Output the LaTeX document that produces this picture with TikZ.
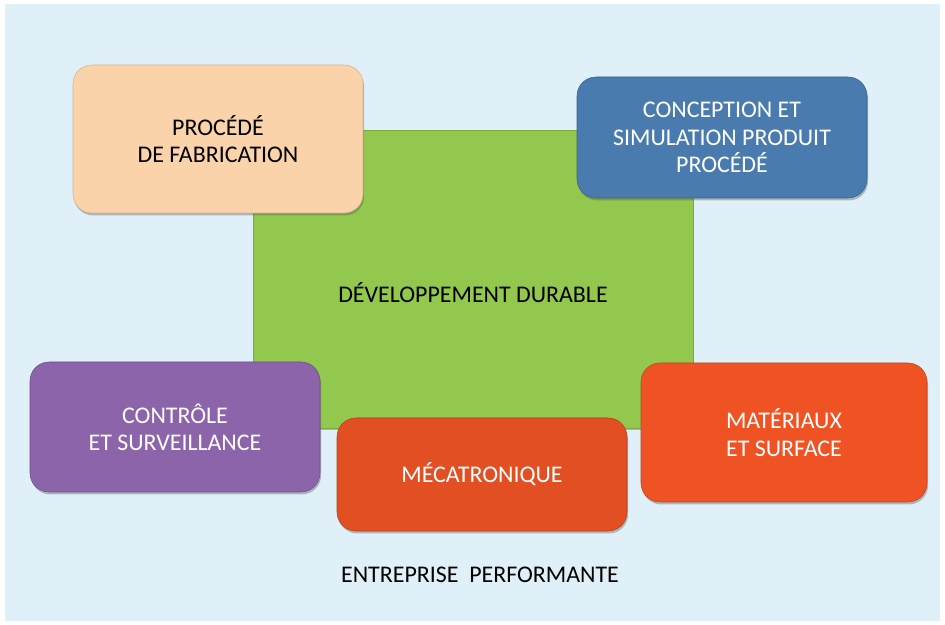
\documentclass[tikz,border=0pt]{standalone}
\usepackage{fontspec}
\setmainfont{Carlito}
\usepackage{xcolor}
\usepackage{tikz}
\usetikzlibrary{shadows,positioning}

\definecolor{fond}{HTML}{DFF0F8}
\definecolor{peche}{HTML}{FAD3AA}
\definecolor{bleu}{HTML}{4A7BAE}
\definecolor{vert}{HTML}{92C84E}
\definecolor{violet}{HTML}{8B64AA}
\definecolor{orangea}{HTML}{E14F23}
\definecolor{orangeb}{HTML}{F05323}

\begin{document}
\begin{tikzpicture}[
  font = \fontsize{13.6}{15.5}\selectfont,
  ombre/.style = {drop shadow={shadow xshift=0.6pt, shadow yshift=-1.4pt,
                  opacity=0.35, fill=black!70}},
  pole/.style = {rectangle, rounded corners=0.38cm, ombre, align=center,
                 inner sep=0pt, minimum width=5.8cm, text=white},
  centre/.style = {rectangle, ombre, inner sep=0pt,
                   minimum width=8.8cm, minimum height=5.96cm}
]
% background
\useasboundingbox (0,0) rectangle (18.9,12.5);
\fill[fond] (0.1,0.08) rectangle (18.8,12.42);

% central block
\node[centre, fill=vert, draw=vert!85!black, line width=0.3pt] (dev) at (9.46,6.92) {};
\node (devtxt) at ([yshift=-0.28cm]dev.center) {DÉVELOPPEMENT DURABLE};

% surrounding poles
\node[pole, fill=peche, draw=peche!85!black, line width=0.3pt, text=black,
      minimum height=2.96cm] (proc) at (4.36,9.72) {PROCÉDÉ\\DE FABRICATION};
\node[pole, fill=bleu, draw=bleu!80!black, line width=0.3pt,
      minimum height=2.42cm] (conc) at (14.44,9.75)
      {CONCEPTION ET\\SIMULATION PRODUIT\\PROCÉDÉ};
\node[pole, fill=violet, draw=violet!80!black, line width=0.3pt,
      minimum height=2.6cm] (ctrl) at (3.5,3.96) {CONTRÔLE\\ET SURVEILLANCE};
\node[pole, fill=orangea, draw=orangea!80!black, line width=0.3pt,
      minimum height=2.26cm] (meca) at (9.64,3.01) {MÉCATRONIQUE};
\node[pole, fill=orangeb, draw=orangeb!80!black, line width=0.3pt,
      minimum width=5.72cm, minimum height=2.78cm] (mat) at (15.68,3.85)
      {MATÉRIAUX\\ET SURFACE};

% caption
\node (perf) at (9.6,1.0) {ENTREPRISE\ \ PERFORMANTE};
\end{tikzpicture}
\end{document}
